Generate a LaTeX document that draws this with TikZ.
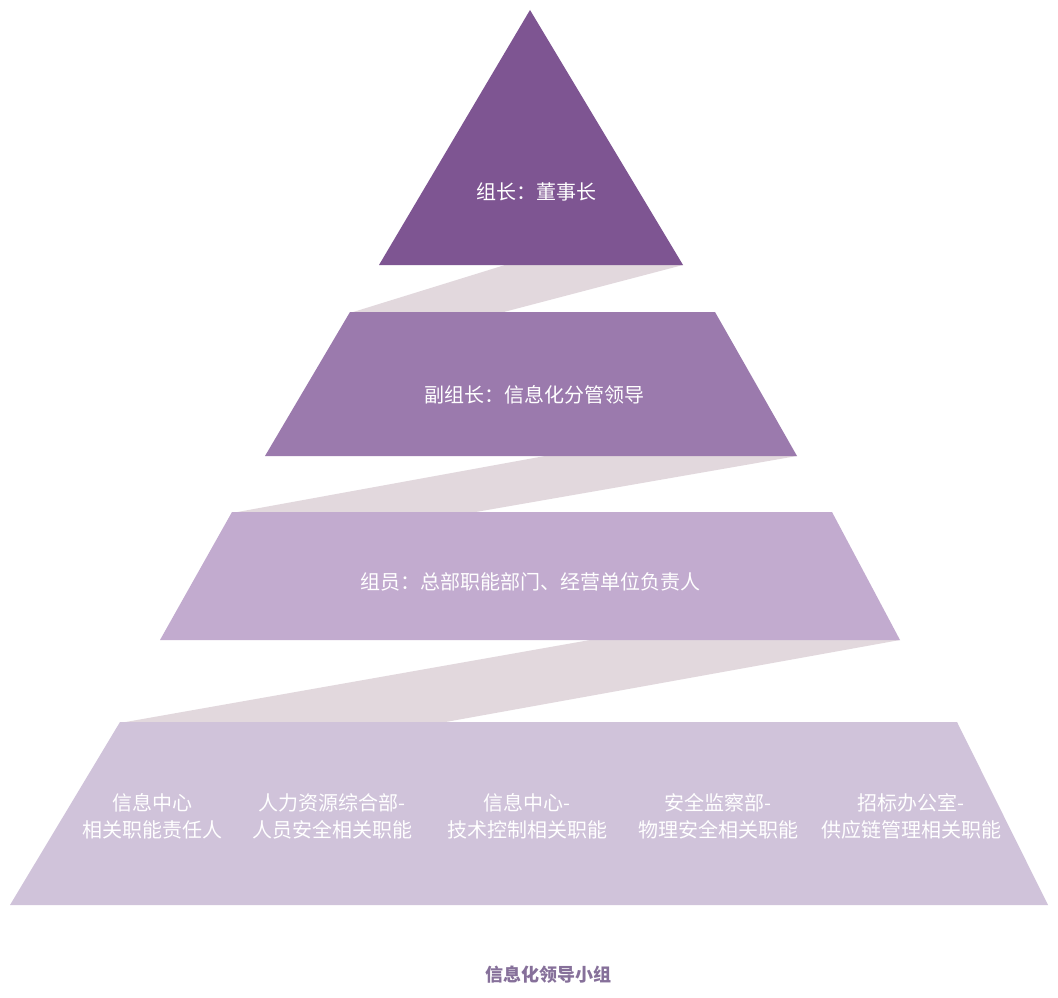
\documentclass[tikz,border=0pt]{standalone}
\usepackage{fontspec}
\newfontfamily\cjk{Noto Sans CJK SC}
\definecolor{lv1}{HTML}{7E5592}
\definecolor{lv2}{HTML}{9B7AAD}
\definecolor{lv3}{HTML}{C2ABCF}
\definecolor{lv4}{HTML}{D0C3DA}
\definecolor{band}{HTML}{E2D8DD}
\definecolor{titlec}{HTML}{86709A}
\tikzset{
  lbl/.style={text=white, font=\cjk\fontsize{20}{27}\selectfont, align=center, inner sep=0pt},
  ribbon/.style={fill=band},
}
\begin{document}
\begin{tikzpicture}[x=1pt,y=-1pt]
\useasboundingbox[fill=white] (0,0) rectangle (1058,998);
% ribbons
\fill[ribbon] (505,265) -- (683,265) -- (500,313) -- (350,313) -- cycle;
\fill[ribbon] (545,456) -- (797,456) -- (470,513) -- (232,513) -- cycle;
\fill[ribbon] (590,640) -- (900,640) -- (440,723) -- (120,723) -- cycle;
% levels
\fill[lv1] (530,10) -- (683,265) -- (379,265) -- cycle;
\fill[lv2] (350,312) -- (715,312) -- (797,456) -- (265,456) -- cycle;
\fill[lv3] (232,512) -- (832,512) -- (900,640) -- (160,640) -- cycle;
\fill[lv4] (120,722) -- (957,722) -- (1048,905) -- (10,905) -- cycle;
% labels
\node[lbl] (l1) at (536,192) {组长：董事长};
\node[lbl] (l2) at (534,395) {副组长：信息化分管领导};
\node[lbl] (l3) at (530,582) {组员：总部职能部门、经营单位负责人};
\node[lbl] (m1) at (152,816) {信息中心\\相关职能责任人};
\node[lbl] (m2) at (332,816) {人力资源综合部-\\人员安全相关职能};
\node[lbl] (m3) at (527,816) {信息中心-\\技术控制相关职能};
\node[lbl] (m4) at (718,816) {安全监察部-\\物理安全相关职能};
\node[lbl] (m5) at (911,816) {招标办公室-\\供应链管理相关职能};
\node[text=titlec, font=\cjk\fontsize{18}{22}\selectfont\bfseries, inner sep=0pt] (t) at (548,975) {信息化领导小组};
\end{tikzpicture}
\end{document}
